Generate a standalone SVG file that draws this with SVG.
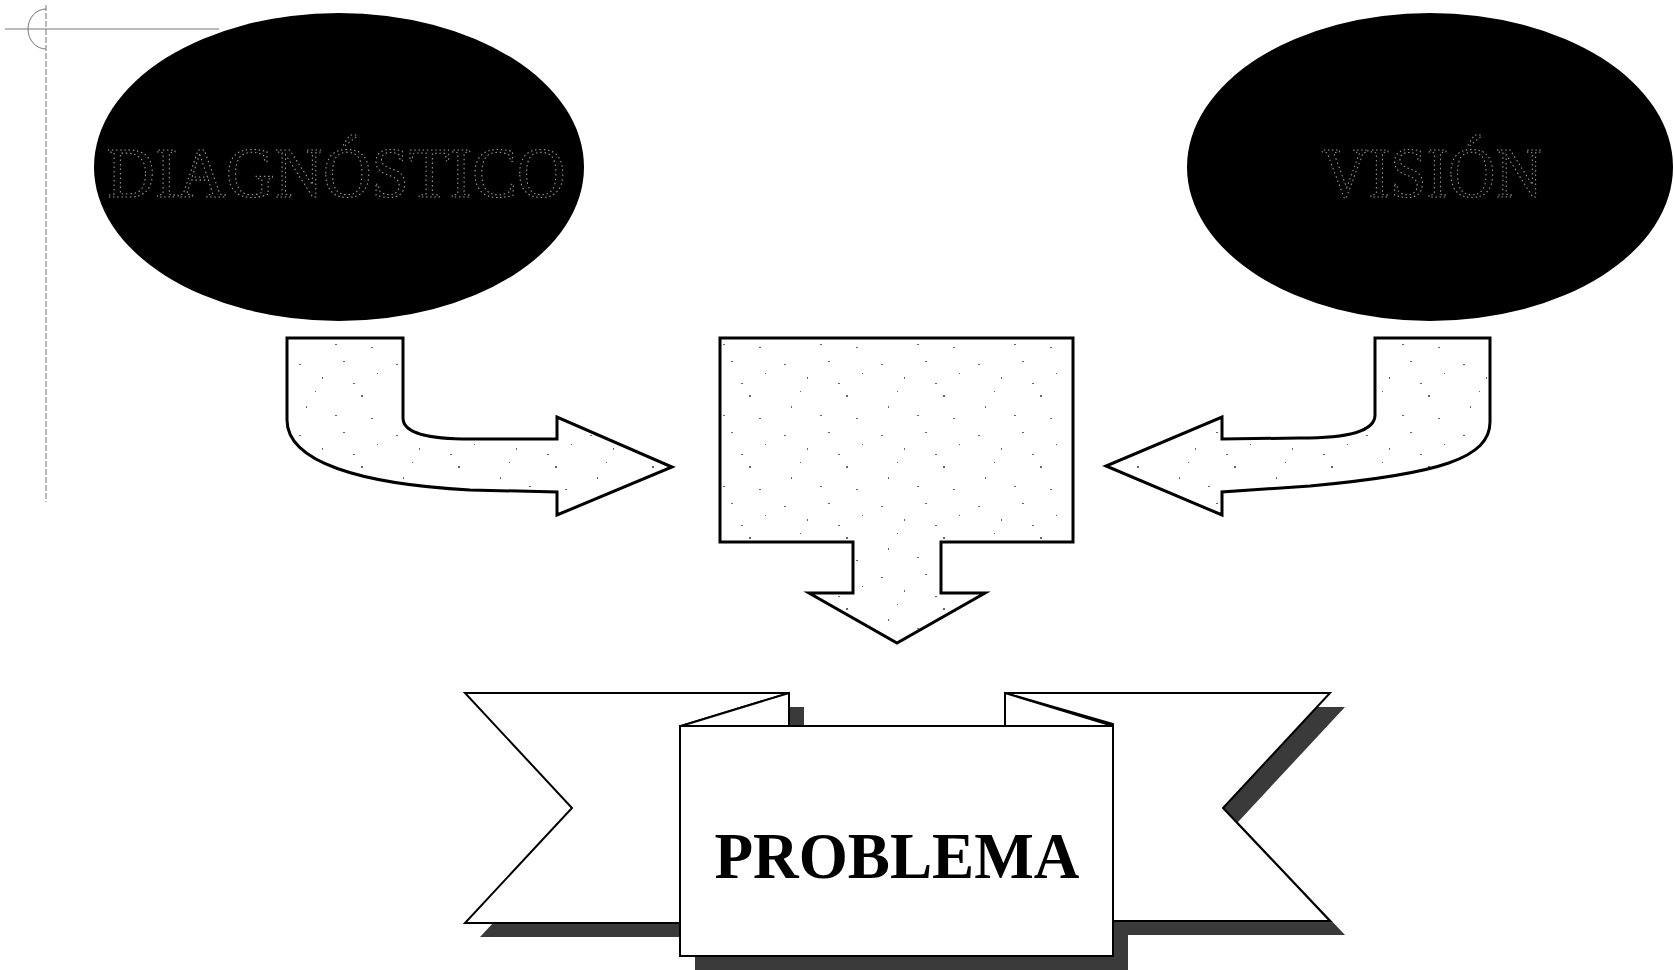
<svg xmlns="http://www.w3.org/2000/svg" width="1674" height="970" viewBox="0 0 1674 970">
<style>
.ell{fill:#000;}
.etxt{font-family:"Liberation Serif","Times New Roman",serif;font-size:72px;fill:#050505;stroke:#9a9a9a;stroke-width:1.1;stroke-dasharray:1.5 3;text-anchor:middle;}
.arrow{fill:url(#speck);stroke:#000;stroke-width:3;stroke-linejoin:miter;}
.rib{fill:#fff;stroke:#000;stroke-width:2;stroke-linejoin:miter;}
.shadow{fill:#3a3a3a;}
.ptxt{font-family:"Liberation Serif","Times New Roman",serif;font-size:66px;font-weight:bold;fill:#000;text-anchor:middle;}
.guide{fill:none;stroke:#777;stroke-width:1;}
</style>
<defs>
<pattern id="speck" width="97" height="71" patternUnits="userSpaceOnUse">
<rect width="97" height="71" fill="#fff"/>
<g fill="#666">
<rect x="8" y="9" width="2" height="1"/>
<rect x="31" y="22" width="1" height="2"/>
<rect x="52" y="6" width="2" height="1"/>
<rect x="70" y="40" width="2" height="2"/>
<rect x="15" y="51" width="1" height="2"/>
<rect x="44" y="60" width="2" height="1"/>
<rect x="86" y="18" width="1" height="1"/>
<rect x="62" y="28" width="2" height="1"/>
<rect x="24" y="36" width="1" height="1"/>
<rect x="80" y="63" width="2" height="1"/>
</g>
</pattern>
</defs>
<rect width="1674" height="970" fill="#fff"/>

<g id="guides">
<line class="guide" x1="5" y1="29" x2="219" y2="29"/>
<line class="guide" x1="46" y1="5" x2="46" y2="502" stroke-dasharray="6 2"/>
<path class="guide" d="M46 9 A18 20 0 0 0 46 49"/>
</g>

<g id="diagnostico">
<ellipse class="ell" cx="339" cy="167" rx="245" ry="154"/>
<text class="etxt" x="336" y="197" textLength="459" lengthAdjust="spacingAndGlyphs">DIAGNÓSTICO</text>
</g>

<g id="vision">
<ellipse class="ell" cx="1430" cy="167" rx="243" ry="154"/>
<text class="etxt" x="1432" y="197" textLength="221" lengthAdjust="spacingAndGlyphs">VISIÓN</text>
</g>

<g id="connectors">
<path id="arrow-left" class="arrow" d="M287 338 L403 338 L403 418 C403 434 430 439 470 439 L557 439 L557 417 L672 467 L557 515 L557 492 L470 490 C360 484 287 462 287 420 Z"/>
<path id="arrow-right" class="arrow" d="M1490 338 L1375 338 L1375 415 C1375 431 1350 438 1300 438 L1222 439 L1222 417 L1106 466 L1222 515 L1222 492 L1310 486 C1440 474 1490 458 1490 422 Z"/>
</g>

<g id="centro">
<path class="arrow" d="M720 338 L1073 338 L1073 542 L941 542 L941 593 L985 593 L897 643 L809 593 L853 593 L853 542 L720 542 Z"/>
</g>

<g id="problema">
<g transform="translate(15,14)" class="shadow">
<polygon points="465,693 789,693 789,923 465,923 572,808"/>
<polygon points="1005,693 1330,693 1223,808 1330,921 1005,921"/>
<polygon points="789,693 789,726 681,726"/>
<rect x="680" y="726" width="433" height="230"/>
</g>
<polygon class="rib" points="465,693 789,693 681,726 680,923 465,923 572,808"/>
<polygon class="rib" points="789,693 789,726 681,726"/>
<polygon class="rib" points="1005,693 1330,693 1223,808 1330,921 1113,921 1113,724"/>
<polygon class="rib" points="1005,693 1113,726 1005,726"/>
<rect class="rib" x="680" y="726" width="433" height="230"/>
<text class="ptxt" x="897" y="878" textLength="365" lengthAdjust="spacingAndGlyphs">PROBLEMA</text>
</g>
</svg>
